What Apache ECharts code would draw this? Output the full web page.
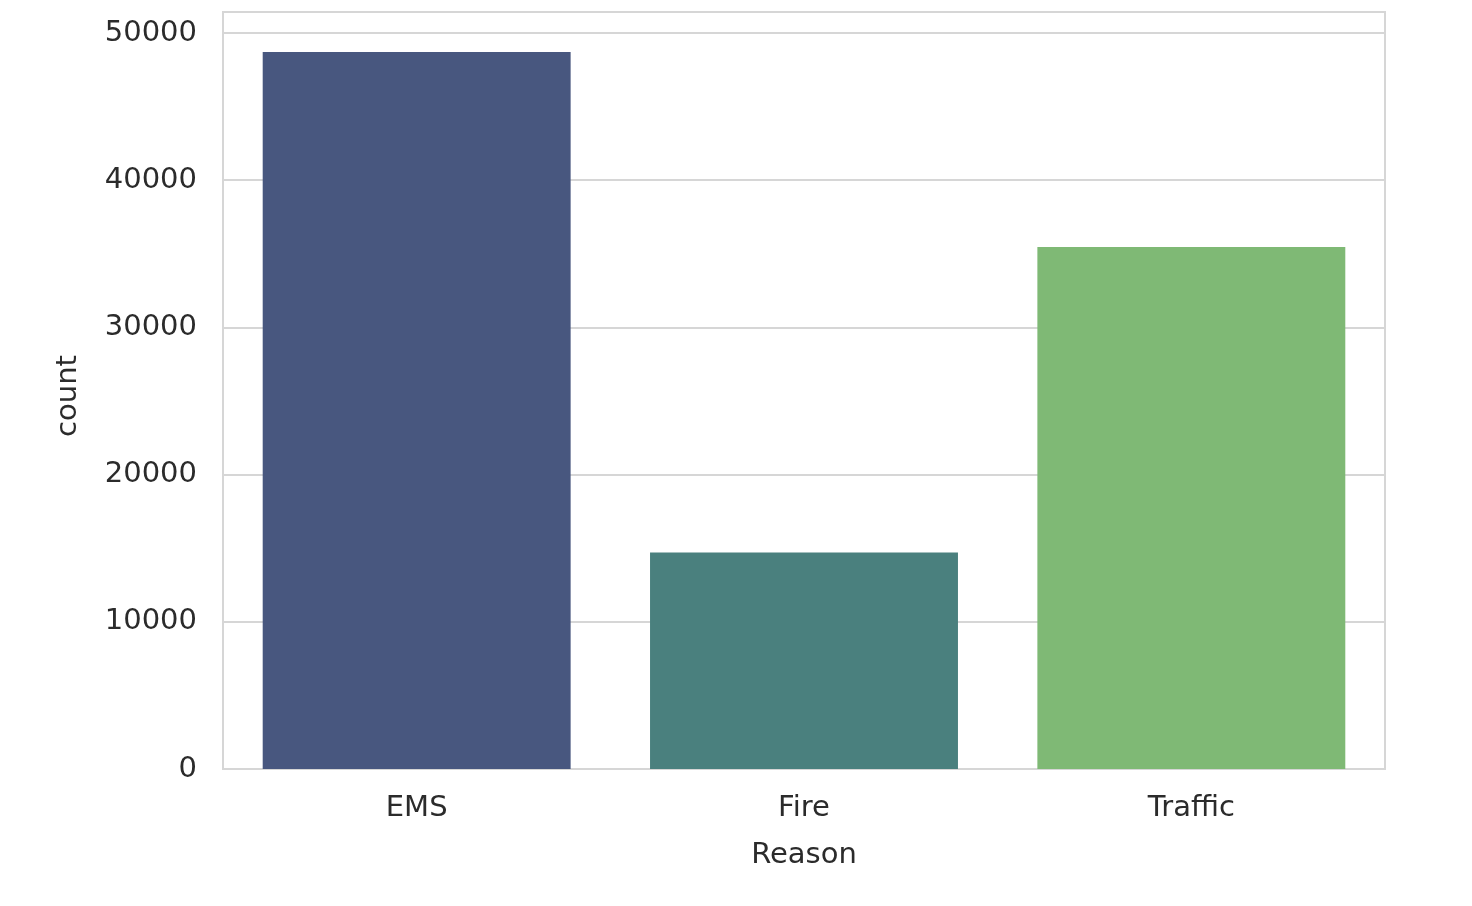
<!DOCTYPE html>
<html>
<head>
<meta charset="utf-8">
<script src="https://cdn.jsdelivr.net/npm/echarts@6/dist/echarts.min.js"></script>
<style>
html,body{margin:0;padding:0;background:#fff;}
#chart{width:1472px;height:906px;}
</style>
</head>
<body>
<div id="chart"></div>
<script>
const categories = ['EMS', 'Fire', 'Traffic'];
const counts = [48710, 14710, 35470];
const barColors = ['#48577f', '#4a807e', '#7fb975'];
const yTicks = [0, 10000, 20000, 30000, 40000, 50000];

const chart = echarts.init(document.getElementById('chart'));
const font = '"DejaVu Sans", sans-serif';
const txt = '#2b2b2b';
chart.setOption({
  animation: false,
  backgroundColor: '#ffffff',
  grid: {
    left: 223, right: 87, top: 12, bottom: 137,
    show: true, borderColor: '#d6d6d6', borderWidth: 2, backgroundColor: 'transparent'
  },
  xAxis: {
    type: 'category',
    data: categories,
    name: 'Reason',
    nameLocation: 'middle',
    nameGap: 72,
    nameTextStyle: { color: txt, fontSize: 29, fontFamily: font },
    axisLine: { show: false },
    axisTick: { show: false },
    axisLabel: { color: txt, fontSize: 29, fontFamily: font, margin: 25 }
  },
  yAxis: {
    type: 'value',
    min: 0,
    max: 51430,
    interval: 10000,
    name: 'count',
    nameLocation: 'middle',
    nameGap: 140,
    nameTextStyle: { color: txt, fontSize: 29, fontFamily: font, padding: [0, 11, 0, 0] },
    axisLine: { show: false },
    axisTick: { show: false },
    axisLabel: {
      color: txt, fontSize: 29, fontFamily: font, margin: 26,
      showMaxLabel: false,
      formatter: function (v) { return yTicks.indexOf(v) >= 0 ? String(v) : ''; }
    },
    splitLine: { show: true, lineStyle: { color: '#d6d6d6', width: 2 } }
  },
  series: [{
    type: 'bar',
    data: counts.map((v, i) => ({ value: v, itemStyle: { color: barColors[i] } })),
    barCategoryGap: '20.5%'
  }]
});
</script>
</body>
</html>
